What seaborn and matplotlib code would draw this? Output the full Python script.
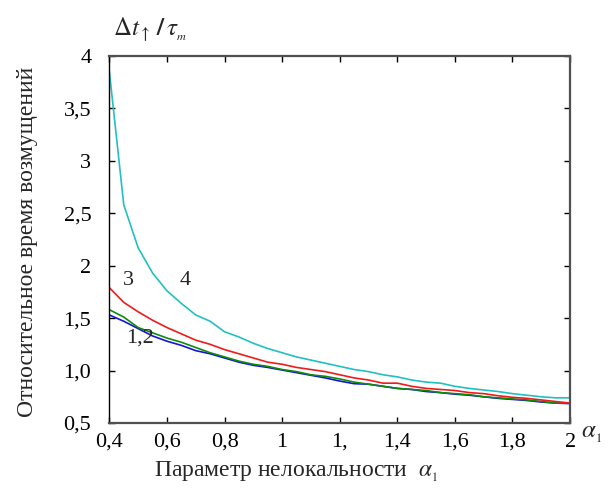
import numpy as np
import pandas as pd
import matplotlib
matplotlib.use('Agg')
import matplotlib.pyplot as plt
import seaborn as sns

# параметр нелокальности
alpha = [0.40, 0.45, 0.50, 0.55, 0.60, 0.65, 0.70, 0.75, 0.80, 0.85, 0.90,
         0.95, 1.00, 1.05, 1.10, 1.15, 1.20, 1.25, 1.30, 1.35, 1.40, 1.45,
         1.50, 1.55, 1.60, 1.65, 1.70, 1.75, 1.80, 1.85, 1.90, 1.95, 2.00]

# кривые 1,2 (синяя и зелёная), 3 (красная), 4 (бирюзовая)
curve_1 = [1.53, 1.47, 1.40, 1.33, 1.28, 1.24, 1.19, 1.16, 1.12, 1.08, 1.05,
           1.03, 1.005, 0.98, 0.955, 0.93, 0.90, 0.875, 0.87, 0.85, 0.83, 0.82,
           0.80, 0.79, 0.775, 0.765, 0.75, 0.735, 0.725, 0.715, 0.70, 0.69, 0.685]
curve_2 = [1.58, 1.51, 1.41, 1.36, 1.31, 1.27, 1.22, 1.17, 1.13, 1.09, 1.06,
           1.04, 1.01, 0.99, 0.96, 0.945, 0.92, 0.89, 0.87, 0.85, 0.83, 0.82,
           0.81, 0.79, 0.78, 0.77, 0.75, 0.74, 0.73, 0.72, 0.705, 0.69, 0.69]
curve_3 = [1.79, 1.65, 1.56, 1.48, 1.41, 1.35, 1.29, 1.25, 1.20, 1.16, 1.12,
           1.08, 1.06, 1.03, 1.01, 0.99, 0.96, 0.93, 0.91, 0.88, 0.88, 0.85,
           0.83, 0.82, 0.81, 0.79, 0.78, 0.76, 0.745, 0.735, 0.72, 0.705, 0.69]
curve_4 = [3.85, 2.58, 2.17, 1.93, 1.76, 1.64, 1.53, 1.47, 1.37, 1.32, 1.26,
           1.21, 1.17, 1.13, 1.10, 1.07, 1.04, 1.01, 0.99, 0.96, 0.94, 0.91,
           0.89, 0.88, 0.85, 0.83, 0.815, 0.80, 0.78, 0.765, 0.75, 0.74, 0.74]

x_ticks = [0.4, 0.6, 0.8, 1.0, 1.2, 1.4, 1.6, 1.8, 2.0]
x_tick_labels = ['0,4', '0,6', '0,8', '1', '1,', '1,4', '1,6', '1,8', '2']
y_ticks = [0.5, 1.0, 1.5, 2.0, 2.5, 3.0, 3.5, 4.0]
y_tick_labels = ['0,5', '1,0', '1,5', '2', '2,5', '3', '3,5', '4']

df = pd.concat([
    pd.DataFrame({'alpha': alpha, 'value': curve_1, 'curve': '1'}),
    pd.DataFrame({'alpha': alpha, 'value': curve_2, 'curve': '2'}),
    pd.DataFrame({'alpha': alpha, 'value': curve_3, 'curve': '3'}),
    pd.DataFrame({'alpha': alpha, 'value': curve_4, 'curve': '4'}),
])
palette = {'1': '#1414d8', '2': '#0f8a0f', '3': '#ee1c1c', '4': '#22c0c0'}

sns.set_style('ticks')
plt.rcParams['font.family'] = ['Liberation Serif', 'DejaVu Serif']
plt.rcParams['mathtext.fontset'] = 'stix'

fig = plt.figure(figsize=(6.11, 5.03), dpi=100)
ax = fig.add_axes([0.179, 0.159, 0.754, 0.730])

sns.lineplot(data=df, x='alpha', y='value', hue='curve', palette=palette,
             legend=False, linewidth=1.2, ax=ax, sort=False)

ax.set_xlim(0.4, 2.0)
ax.set_ylim(0.5, 4.0)
ax.set_xticks(x_ticks)
ax.set_xticklabels(x_tick_labels)
ax.set_yticks(y_ticks)
ax.set_yticklabels(y_tick_labels)
ax.tick_params(direction='in', length=4, width=1, top=True, right=True,
               labelsize=16, colors='black')
ax.tick_params(axis='y', pad=13)
ax.tick_params(axis='x', pad=7)

for side in ['top', 'right', 'bottom']:
    ax.spines[side].set_color('#505050')
    ax.spines[side].set_linewidth(1.6)
ax.spines['left'].set_color('black')
ax.spines['left'].set_linewidth(1.0)

ax.set_xlabel('')
ax.set_ylabel('')

# подписи кривых
ax.text(0.465, 1.856, '3', fontsize=16, ha='center', va='center')
ax.text(0.664, 1.856, '4', fontsize=16, ha='center', va='center')
ax.text(0.508, 1.31, '1,2', fontsize=16, ha='center', va='center')

# обозначения осей
fig.text(0.185, 0.94, r'$\Delta t_{\uparrow}\,\mathbf{/}\,\tau_{_m}$', fontsize=18,
         ha='left', va='center')
fig.text(0.968, 0.138, r'$\alpha_{_1}$', fontsize=18, ha='center', va='center')
fig.text(0.045, 0.52, 'Относительное время возмущений', fontsize=17,
         rotation=90, ha='center', va='center')
fig.text(0.484, 0.062, r'Параметр нелокальности  $\alpha_{_1}$', fontsize=17,
         ha='center', va='center')

fig.savefig('out.png', dpi=100)
